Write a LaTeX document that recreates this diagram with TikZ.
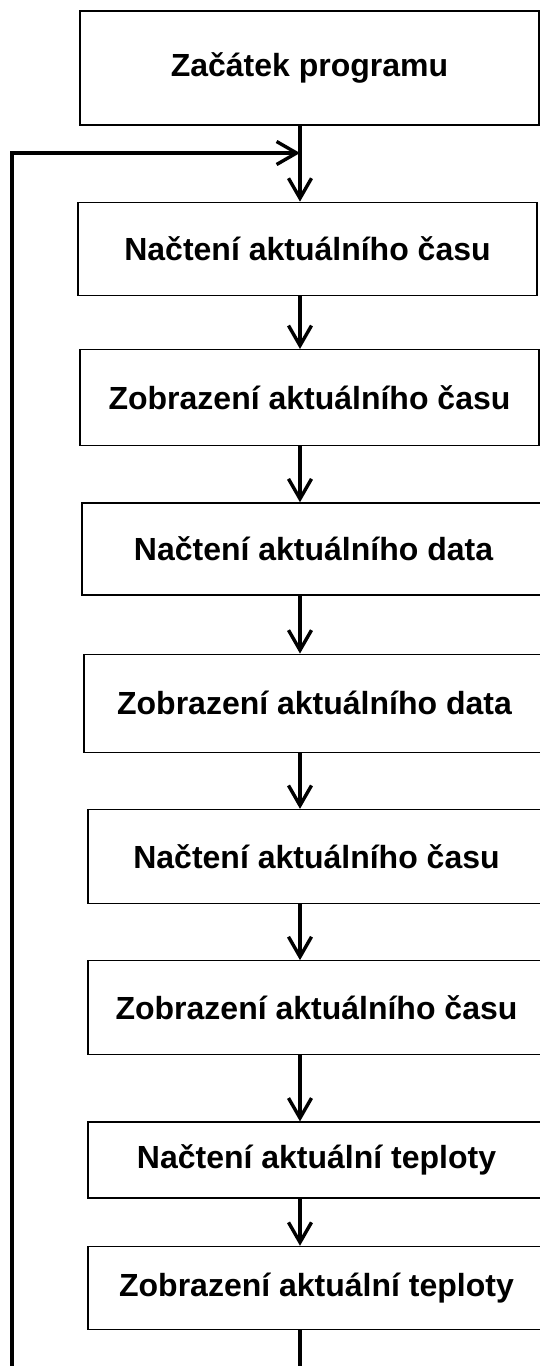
\documentclass[tikz,border=0pt]{standalone}
\usepackage{fontspec}
\setmainfont{Liberation Sans}
\usetikzlibrary{positioning}
\usetikzlibrary{arrows.meta}
\tikzset{box/.style = {draw, line width=0.65pt, align=center, text centered, inner sep=0pt, minimum width=228.5pt, font=\bfseries\fontsize{16}{20}\selectfont}}
\tikzset{arr/.style = {line width=1.7pt, -{Straight Barb[length=10pt, width=11.5pt, line width=1.7pt]}}}
\tikzset{backline/.style = {line width=2pt}}

\begin{document}
\begin{tikzpicture}[x=0.5pt, y=-0.5pt]

\useasboundingbox (0,0) rectangle (540,1366);

\node[box, minimum width=229.5pt, minimum height=57pt] (b0) at (309.5,68) {Začátek programu};
\node[box, minimum width=229.5pt, minimum height=46.5pt, below=38pt of b0, xshift=-1pt] (b1) {Načtení aktuálního času};
\node[box, minimum width=229.5pt, minimum height=48pt, below=26.5pt of b1, xshift=1pt] (b2) {Zobrazení aktuálního času};
\node[box, minimum width=231.5pt, minimum height=46pt, below=28pt of b2, xshift=2pt] (b3) {Načtení aktuálního data};
\node[box, minimum width=230.5pt, minimum height=49pt, below=29pt of b3, xshift=0.5pt] (b4) {Zobrazení aktuálního data};
\node[box, minimum height=47pt, below=28pt of b4, xshift=1pt] (b5) {Načtení aktuálního času};
\node[box, minimum height=47pt, below=28pt of b5] (b6) {Zobrazení aktuálního času};
\node[box, minimum height=38pt, below=33pt of b6] (b7) {Načtení aktuální teploty};
\node[box, minimum height=41.5pt, below=23.5pt of b7] (b8) {Zobrazení aktuální teploty};

% arrows run a bit left of the box centres
\coordinate (ax) at (300,0);
\coordinate (lptop) at (12,153);
\coordinate (lpbot) at (12,1366);

\draw[arr]  (b0.south -| ax) -- (b1.north -| ax);
\draw[arr]  (b1.south -| ax) -- (b2.north -| ax);
\draw[arr]  (b2.south -| ax) -- (b3.north -| ax);
\draw[arr]  (b3.south -| ax) -- (b4.north -| ax);
\draw[arr]  (b4.south -| ax) -- (b5.north -| ax);
\draw[arr]  (b5.south -| ax) -- (b6.north -| ax);
\draw[arr]  (b6.south -| ax) -- (b7.north -| ax);
\draw[arr]  (b7.south -| ax) -- (b8.north -| ax);
\draw[backline]  (b8.south -| ax) -- (ax |- lpbot);
\draw[arr, backline]  (lpbot) -- (lptop) -- (lptop -| ax);

\end{tikzpicture}
\end{document}
